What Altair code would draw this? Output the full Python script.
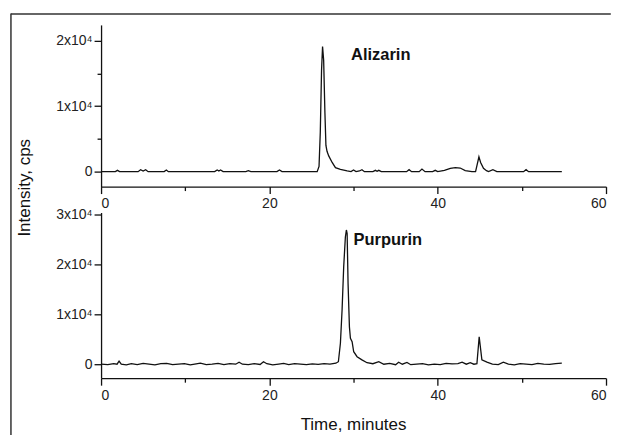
import altair as alt
import pandas as pd

# ---- data ----
alizarin_t = [0, 1.7, 1.95, 2.2, 4.4, 4.7, 5.0, 5.3, 5.6, 7.5,
              7.76, 8.0, 13.5, 13.8, 14.0, 14.2, 14.5, 17.2, 17.5, 17.8,
              20.9, 21.2, 21.5, 25.68, 25.9, 26.05, 26.2, 26.32, 26.45, 26.6,
              26.72, 26.85, 27.05, 27.46, 27.85, 28.44, 29.24, 29.7, 30.0, 30.3,
              30.7, 31.0, 31.3, 32.3, 32.6, 32.8, 33.0, 33.3, 36.3, 36.6,
              36.9, 37.8, 38.13, 38.5, 39.4, 39.71, 40.0, 40.8, 41.5, 42.1,
              42.68, 43.27, 44.07, 44.5, 44.9, 45.1, 45.44, 45.8, 46.04, 46.56,
              47.03, 50.2, 50.5, 50.8, 54.75]
alizarin_v = [0, 0, 200, 0, 0, 300, 100, 300, 0, 0,
              250, 0, 0, 250, 100, 250, 0, 0, 150, 0,
              0, 250, 0, 0, 800, 6000, 15500, 19100, 17000, 9000,
              4000, 3100, 2400, 1400, 600, 350, 100, 0, 250, 0,
              100, 300, 0, 0, 200, 50, 200, 0, 0, 300,
              0, 0, 400, 0, 0, 200, 0, 200, 500, 600,
              550, 150, 0, 0, 2250, 1400, 500, 150, 0, 300,
              0, 0, 300, 0, 0]

purpurin_t = [0, 0.8, 1.5, 1.9, 2.14, 2.4, 3.0, 3.6, 4.3, 5.0,
              5.7, 6.4, 7.1, 7.8, 8.5, 9.2, 9.9, 10.6, 11.3, 11.8,
              12.5, 13.2, 13.9, 14.6, 15.3, 16.0, 16.4, 16.8, 17.5, 18.2,
              18.9, 19.3, 19.7, 20.4, 21.1, 21.7, 22.3, 23.0, 23.7, 24.4,
              25.1, 25.8, 26.5, 27.2, 27.9, 28.2, 28.44, 28.64, 28.83, 29.03,
              29.15, 29.24, 29.35, 29.51, 29.63, 29.83, 30.02, 30.42, 31.0, 31.6,
              32.3, 33.0, 33.6, 34.3, 35.0, 35.36, 35.8, 36.35, 36.8, 37.5,
              38.2, 38.9, 39.6, 40.3, 41.0, 41.7, 42.4, 42.9, 43.4, 43.87,
              44.3, 44.66, 44.93, 45.25, 45.85, 46.5, 47.2, 47.8, 48.4, 49.1,
              49.8, 50.5, 51.2, 51.9, 52.6, 53.3, 54.0, 54.75]
purpurin_v = [0, -100, 100, 0, 600, 0, -150, 100, -100, 150,
              0, -150, 100, 150, -100, 0, 100, -150, 50, 200,
              -100, 0, 150, -100, 100, 0, 400, 0, -100, 100,
              -50, 500, 100, -150, 0, 150, -100, 100, 0, -100,
              50, -50, 100, 0, 200, 500, 4200, 10900, 19500, 25500,
              26900, 26200, 16200, 7500, 5200, 4500, 2500, 1500, 860, 300,
              100, 500, 0, 150, -100, 400, 0, 350, -100, 0,
              100, -150, 0, -100, 150, 50, 100, 400, 0, 300,
              0, 100, 5500, 860, 400, 0, -100, 400, 0, -150,
              100, 0, -100, 150, 0, -50, 100, 200]

x_ticks = [0, 10, 20, 30, 40, 50, 60]
top_y_ticks = [0, 5000, 10000, 15000, 20000]
bot_y_ticks = [0, 5000, 10000, 15000, 20000, 25000, 30000]
labels = ["Alizarin", "Purpurin"]
label_t = [29.7, 30.0]
label_v = [17100, 23860]
y_title = "Intensity, cps"
x_title = "Time, minutes"

FONT = "Liberation Sans"
W = 506

top_df = pd.DataFrame({"t": alizarin_t, "v": alizarin_v})
bot_df = pd.DataFrame({"t": purpurin_t, "v": purpurin_v})


def x_axis():
    return alt.Axis(
        values=x_ticks,
        title=None,
        labelExpr="datum.value % 20 == 0 ? '' + datum.value : ''",
        tickSize={"condition": {"test": "datum.value % 20 != 0", "value": 4}, "value": 7},
        labelPadding=3,
        grid=False,
    )


def y_axis(vals):
    return alt.Axis(
        values=vals,
        title=None,
        labelExpr="datum.value == 0 ? '0' : (datum.value % 10000 == 0 ? (datum.value / 10000) + 'x10\u2074' : '')",
        tickSize={"condition": {"test": "datum.value % 10000 != 0", "value": 4}, "value": 7},
        labelPadding=2,
        grid=False,
    )


def trace(df, ydom, yticks):
    return alt.Chart(df).mark_line(color="#111", strokeWidth=1.3, interpolate="linear").encode(
        x=alt.X("t:Q", scale=alt.Scale(domain=[0, 60], nice=False, zero=False), axis=x_axis()),
        y=alt.Y("v:Q", scale=alt.Scale(domain=ydom, nice=False, zero=False), axis=y_axis(yticks)),
    )


def annot(i, ydom):
    d = pd.DataFrame({"t": [label_t[i]], "v": [label_v[i]], "s": [labels[i]]})
    return alt.Chart(d).mark_text(
        align="left", baseline="alphabetic", font=FONT, fontSize=16.5, fontWeight="bold", color="#111"
    ).encode(
        x=alt.X("t:Q", scale=alt.Scale(domain=[0, 60], nice=False, zero=False)),
        y=alt.Y("v:Q", scale=alt.Scale(domain=ydom, nice=False, zero=False)),
        text="s:N",
    )


one = pd.DataFrame({"a": [0]})
frame_v = alt.Chart(one).mark_rule(color="#333", strokeWidth=1.5).encode(
    x=alt.value(-90.3), y=alt.value(-11.5), y2=alt.value(411.7)
)
frame_h = alt.Chart(one).mark_rule(color="#333", strokeWidth=1.5).encode(
    x=alt.value(-90.3), x2=alt.value(510.8), y=alt.value(-11)
)
ytitle = alt.Chart(pd.DataFrame({"s": [y_title]})).mark_text(
    angle=270, align="center", baseline="middle", font=FONT, fontSize=17, color="#111"
).encode(x=alt.value(-76), y=alt.value(163.2), text="s:N")
xtitle = alt.Chart(pd.DataFrame({"s": [x_title]})).mark_text(
    align="center", baseline="alphabetic", font=FONT, fontSize=17, color="#111"
).encode(x=alt.value(W / 2), y=alt.value(218.3), text="s:N")

top_dom = [-2280, 22400]
bot_dom = [-2800, 30400]

top = alt.layer(
    frame_v, frame_h, ytitle,
    trace(top_df, top_dom, top_y_ticks),
    annot(0, top_dom),
).properties(width=W, height=162)

bottom = alt.layer(
    trace(bot_df, bot_dom, bot_y_ticks),
    annot(1, bot_dom),
    xtitle,
).properties(width=W, height=166)

chart = alt.vconcat(top, bottom, spacing=26, bounds="flush").properties(
    padding={"left": 1.25, "top": 3.5, "right": 0, "bottom": 0}
).configure_view(stroke=None).configure_axis(
    domainColor="#111", domainWidth=1.3, tickColor="#111", tickWidth=1.3,
    labelFont=FONT, labelFontSize=14, labelColor="#222",
)

chart.save("out.html", embed_options={"renderer": "svg", "actions": False})
